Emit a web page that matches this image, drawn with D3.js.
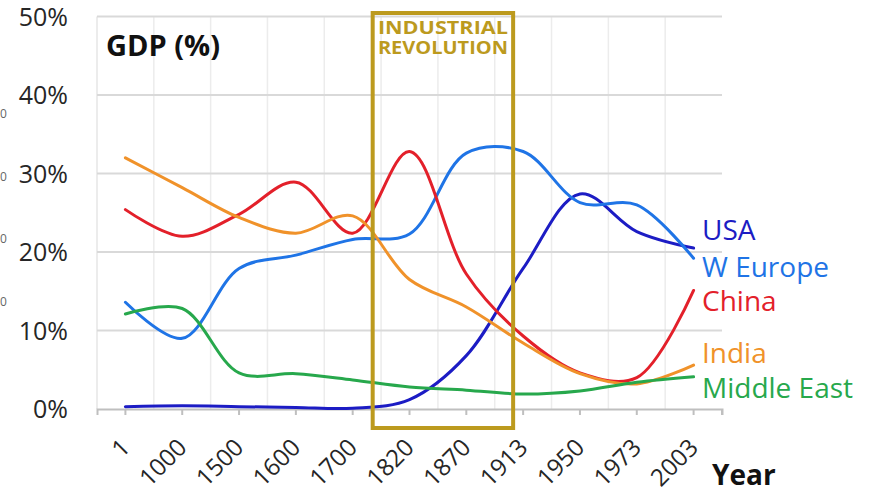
<!DOCTYPE html>
<html>
<head>
<meta charset="utf-8">
<script src="https://cdn.jsdelivr.net/npm/d3@7"></script>
<style>
  html, body { margin: 0; padding: 0; background: #ffffff; }
  svg { display: block; }
  text { font-family: "Open Sans", "Noto Sans", sans-serif; }
</style>
</head>
<body>
<svg id="chart" width="877" height="493"></svg>
<script>
// Share of world GDP by region (%), selected years
const years = ["1", "1000", "1500", "1600", "1700", "1820", "1870", "1913", "1950", "1973", "2003"];

const usa        = [0.3, 0.4, 0.3, 0.2, 0.1, 1.2, 6.8, 17.9, 27.4, 22.6, 20.5];
const westEurope = [13.6, 9.0, 17.9, 19.6, 21.6, 22.3, 32.6, 32.8, 26.3, 26.0, 19.2];
const china      = [25.4, 22.0, 24.8, 28.9, 22.4, 32.8, 17.2, 9.3, 4.6, 4.0, 15.1];
const india      = [32.0, 28.2, 24.4, 22.4, 24.6, 16.5, 13.0, 8.4, 4.5, 3.2, 5.6];
const middleEast = [12.1, 12.8, 4.6, 4.5, 3.7, 2.8, 2.4, 1.9, 2.3, 3.4, 4.1];

const seriesNames  = ["USA", "W Europe", "China", "India", "Middle East"];
const seriesValues = [usa, westEurope, china, india, middleEast];
const seriesColors = ["#1c1cc4", "#1f74e6", "#e3202a", "#f0922a", "#27a84c"];

const yTicks = [0, 10, 20, 30, 40, 50];
const ghostTicks = ["0", "0", "0", "0"];
const eraStart = "1700", eraEnd = "1913";
const eraLabel = ["INDUSTRIAL", "REVOLUTION"];

const svg = d3.select("#chart");

const x = d3.scaleBand().domain(years).range([97, 722]);
const y = d3.scaleLinear().domain([0, 50]).range([409, 16.5]);
const cx = d => x(d) + x.bandwidth() / 2;

// vertical gridlines on category boundaries
svg.append("g")
  .selectAll("line")
  .data(years.slice(1))
  .join("line")
  .attr("x1", d => x(d)).attr("x2", d => x(d))
  .attr("y1", y(50)).attr("y2", y(0))
  .attr("stroke", "#ececec").attr("stroke-width", 1.5);
svg.append("line")
  .attr("x1", 97).attr("x2", 97).attr("y1", y(50)).attr("y2", y(0))
  .attr("stroke", "#e6e6e6").attr("stroke-width", 1.5);

// horizontal gridlines
svg.append("g")
  .selectAll("line")
  .data(yTicks.slice(1))
  .join("line")
  .attr("x1", 97).attr("x2", 722)
  .attr("y1", d => y(d)).attr("y2", d => y(d))
  .attr("stroke", "#d9d9d9").attr("stroke-width", 1.8);

// y axis labels
svg.append("g")
  .selectAll("text")
  .data(yTicks)
  .join("text")
  .attr("x", 68).attr("y", d => y(d) + 9)
  .attr("text-anchor", "end")
  .attr("font-size", 25)
  .attr("fill", "#262626")
  .text(d => d + "%");

// faint digits of a second scale at the page edge
svg.append("g")
  .selectAll("text")
  .data(ghostTicks)
  .join("text")
  .attr("x", 0)
  .attr("y", (d, i) => 118 + i * 62.5)
  .attr("font-size", 12)
  .attr("fill", "#666")
  .text(d => d);

// x axis
const xAxis = d3.axisBottom(x).tickSize(6).tickFormat("");
const gx = svg.append("g").attr("transform", `translate(0,${y(0)})`).call(xAxis);
gx.select(".domain").attr("stroke", "#bfbfbf").attr("stroke-width", 2);
gx.selectAll(".tick line").attr("stroke", "#bfbfbf").attr("stroke-width", 2);
gx.append("line").attr("x1", 722).attr("x2", 722).attr("y1", 0).attr("y2", 6)
  .attr("stroke", "#bfbfbf").attr("stroke-width", 2);

svg.append("g")
  .selectAll("text")
  .data(years)
  .join("text")
  .attr("transform", d => `translate(${cx(d) + 6},${y(0) + 40}) rotate(-45)`)
  .attr("text-anchor", "end")
  .attr("font-size", 24)
  .attr("fill", "#262626")
  .text(d => d);

// series lines
const line = d3.line()
  .x((d, i) => cx(years[i]))
  .y(d => y(d))
  .curve(d3.curveCatmullRom.alpha(0.5));

svg.append("g")
  .selectAll("path")
  .data(seriesValues)
  .join("path")
  .attr("d", d => line(d))
  .attr("fill", "none")
  .attr("stroke", (d, i) => seriesColors[i])
  .attr("stroke-width", 3)
  .attr("stroke-linecap", "round");

// series labels at the right end
const labelBaselines = [240, 277, 311, 363, 398];
svg.append("g")
  .selectAll("text")
  .data(seriesNames)
  .join("text")
  .attr("x", 702)
  .attr("y", (d, i) => labelBaselines[i])
  .attr("font-size", 28)
  .attr("fill", (d, i) => seriesColors[i])
  .text(d => d);

// industrial revolution box
const boxLeft = cx(eraStart) + 20, boxRight = cx(eraEnd) - 10;
svg.append("rect")
  .attr("x", boxLeft).attr("y", 13)
  .attr("width", boxRight - boxLeft).attr("height", 428 - 13)
  .attr("fill", "none")
  .attr("stroke", "#bc9a1e").attr("stroke-width", 4);

svg.append("g")
  .selectAll("text")
  .data(eraLabel)
  .join("text")
  .attr("x", (boxLeft + boxRight) / 2)
  .attr("y", (d, i) => 34 + i * 20)
  .attr("text-anchor", "middle")
  .attr("font-family", "Liberation Sans, Arial, sans-serif")
  .attr("font-weight", "bold")
  .attr("font-size", 17)
  .attr("textLength", 130)
  .attr("lengthAdjust", "spacingAndGlyphs")
  .attr("fill", "#bc9a1e")
  .text(d => d);

// titles
svg.append("text")
  .attr("x", 106).attr("y", 56)
  .attr("font-size", 29).attr("font-weight", "bold").attr("fill", "#111")
  .text("GDP (%)");

svg.append("text")
  .attr("x", 712).attr("y", 485)
  .attr("font-size", 28).attr("font-weight", "bold").attr("fill", "#111")
  .text("Year");
</script>
</body>
</html>
